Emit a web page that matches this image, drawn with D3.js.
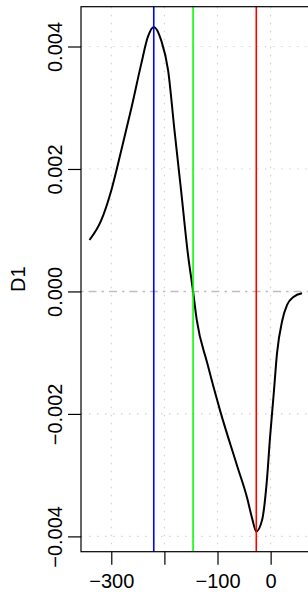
<!DOCTYPE html>
<html>
<head>
<meta charset="utf-8">
<script src="https://cdn.jsdelivr.net/npm/d3@7"></script>
<style>
html,body{margin:0;padding:0;background:#fff;}
svg{display:block;font-family:"Liberation Sans",Arial,Helvetica,sans-serif;}
</style>
</head>
<body>
<svg id="chart" width="308" height="592"></svg>
<script>
// ---- data ----
const xValues = [-341, -319, -300, -281, -262, -244, -231, -220, -206, -193, -181, -168, -156, -146, -139, -120, -95, -63, -44, -35, -27, -16, -7, -1, 6, 12, 22, 31, 43, 59];
const d1Values = [0.00084, 0.00116, 0.00165, 0.00231, 0.00300, 0.00370, 0.00416, 0.00432, 0.00410, 0.00361, 0.00263, 0.00160, 0.00063, 0.0, -0.00047, -0.00115, -0.00195, -0.00285, -0.00338, -0.00370, -0.00392, -0.00373, -0.00308, -0.00237, -0.00165, -0.00101, -0.00047, -0.00022, -0.00009, -0.00003];
const vLinePositions = [-220, -146, -27];
const vLineColors = ["#0000ff", "#00ff00", "#ff0000"];
const xTicks = [-300, -200, -100, 0];
const xTickLabels = ["\u2212300", "", "\u2212100", "0"];
const yTicks = [0.004, 0.002, 0.000, -0.002, -0.004];
const yTickLabels = ["0.004", "0.002", "0.000", "\u22120.002", "\u22120.004"];
const yLabel = "D1";

// ---- layout ----
const pLeft = 81, pRight = 311, pTop = 6.7, pBottom = 551.7;
const x = d3.scaleLinear().domain([-357, 76]).range([pLeft, pRight]);
const y = d3.scaleLinear().domain([-0.00425, 0.00465]).range([pBottom, pTop]);

const svg = d3.select("#chart");

svg.append("defs").append("clipPath").attr("id", "clip")
  .append("rect").attr("x", pLeft).attr("y", pTop).attr("width", pRight - pLeft).attr("height", pBottom - pTop);

const plot = svg.append("g").attr("clip-path", "url(#clip)");

// grid
plot.selectAll("line.gx").data(xTicks).join("line")
  .attr("x1", d => x(d)).attr("x2", d => x(d))
  .attr("y1", pTop).attr("y2", pBottom)
  .attr("stroke", "#d3d3d3").attr("stroke-width", 1.2).attr("stroke-dasharray", "1.5,6.5");
plot.selectAll("line.gy").data(yTicks.filter(d => d !== 0)).join("line")
  .attr("x1", pLeft).attr("x2", pRight)
  .attr("y1", d => y(d)).attr("y2", d => y(d))
  .attr("stroke", "#d3d3d3").attr("stroke-width", 1.2).attr("stroke-dasharray", "1.5,6.5");

// zero reference line (dot-dash)
plot.append("line")
  .attr("x1", pLeft).attr("x2", pRight)
  .attr("y1", y(0)).attr("y2", y(0))
  .attr("stroke", "#bebebe").attr("stroke-width", 1.5).attr("stroke-dasharray", "2.5,5,8,5");

// curve
const pts = xValues.map((v, i) => [v, d1Values[i]]);
plot.append("path")
  .datum(pts)
  .attr("fill", "none").attr("stroke", "#000").attr("stroke-width", 2)
  .attr("stroke-linejoin", "round")
  .attr("d", d3.line().x(d => x(d[0])).y(d => y(d[1])).curve(d3.curveMonotoneX));

// vertical lines
plot.selectAll("line.v").data(vLinePositions).join("line")
  .attr("x1", d => x(d)).attr("x2", d => x(d))
  .attr("y1", pTop).attr("y2", pBottom)
  .attr("stroke", (d, i) => vLineColors[i]).attr("stroke-width", 1.6);

// frame
svg.append("rect").attr("x", pLeft).attr("y", pTop).attr("width", pRight - pLeft).attr("height", pBottom - pTop)
  .attr("fill", "none").attr("stroke", "#000").attr("stroke-width", 1.2);

// axes
const xAxis = d3.axisBottom(x).tickValues(xTicks).tickSize(13).tickPadding(6)
  .tickFormat((d, i) => xTickLabels[i]);
const gx = svg.append("g").attr("transform", `translate(0,${pBottom})`).call(xAxis);
gx.select(".domain").remove();
gx.selectAll("line").attr("stroke", "#000").attr("stroke-width", 1.2);
gx.selectAll("text").attr("font-size", 20).attr("fill", "#000")
  .attr("font-family", "Liberation Sans, Arial, sans-serif")
  .attr("dy", null).attr("y", 36);

const yAxis = d3.axisLeft(y).tickValues(yTicks).tickSize(13)
  .tickFormat((d, i) => yTickLabels[i]);
const gy = svg.append("g").attr("transform", `translate(${pLeft},0)`).call(yAxis);
gy.select(".domain").remove();
gy.selectAll("line").attr("stroke", "#000").attr("stroke-width", 1.2);
gy.selectAll("text").attr("font-size", 20).attr("fill", "#000")
  .attr("font-family", "Liberation Sans, Arial, sans-serif")
  .attr("x", null).attr("dy", null)
  .attr("text-anchor", "middle")
  .attr("transform", `translate(${62 - pLeft},0) rotate(-90)`);

// y label
svg.append("text")
  .attr("transform", `translate(25,${(pTop + pBottom) / 2}) rotate(-90)`)
  .attr("text-anchor", "middle")
  .attr("font-size", 20)
  .attr("fill", "#000")
  .text(yLabel);
</script>
</body>
</html>
